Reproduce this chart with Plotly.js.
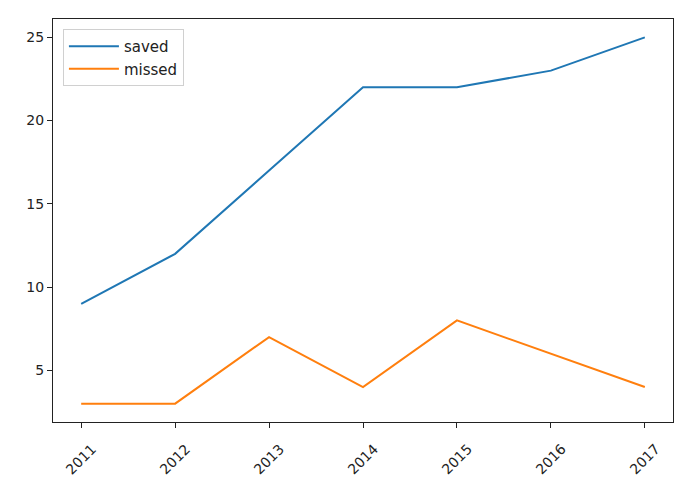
<!DOCTYPE html>
<html>
<head>
<meta charset="utf-8">
<script src="https://cdn.plot.ly/plotly-3.0.1.min.js"></script>
<style>html,body{margin:0;padding:0;background:#fff;}</style>
</head>
<body>
<div id="chart" style="width:695px;height:494px;"></div>
<script>
const years = [2011, 2012, 2013, 2014, 2015, 2016, 2017];
const saved = [9, 12, 17, 22, 22, 23, 25];
const missed = [3, 3, 7, 4, 8, 6, 4];
const yTicks = [5, 10, 15, 20, 25];

const traces = [
  {x: years, y: saved, name: 'saved', type: 'scatter', mode: 'lines',
   line: {color: '#1f77b4', width: 2}},
  {x: years, y: missed, name: 'missed', type: 'scatter', mode: 'lines',
   line: {color: '#ff7f0e', width: 2}}
];

const tickFont = {family: 'DejaVu Sans', size: 14, color: '#222'};

const annotations = years.map(yr => ({
  x: yr, y: -0.092, xref: 'x', yref: 'paper', text: String(yr),
  showarrow: false, textangle: -45, xanchor: 'center', yanchor: 'middle',
  font: tickFont
}));

const layout = {
  width: 695, height: 494,
  margin: {l: 53, r: 22, t: 19, b: 72},
  paper_bgcolor: '#fff', plot_bgcolor: '#fff',
  font: {family: 'DejaVu Sans', size: 14, color: '#222'},
  showlegend: true,
  legend: {x: 0.016, y: 0.975, xanchor: 'left', yanchor: 'top',
    bgcolor: 'rgba(255,255,255,0.8)', bordercolor: '#d0d0d0', borderwidth: 1,
    itemwidth: 50,
    font: {family: 'DejaVu Sans', size: 15, color: '#222'}},
  annotations: annotations,
  xaxis: {range: [2010.7, 2017.3], tickvals: years, showticklabels: false,
    showgrid: false, zeroline: false, showline: true, mirror: true,
    linecolor: '#222', linewidth: 1, ticks: 'outside', ticklen: 5, tickcolor: '#222'},
  yaxis: {range: [1.9, 26.1], tickvals: yTicks, showgrid: false, zeroline: false,
    showline: true, mirror: true, linecolor: '#222', linewidth: 1,
    ticks: 'outside', ticklen: 5, tickcolor: '#222', tickfont: tickFont}
};

Plotly.newPlot('chart', traces, layout, {displayModeBar: false, staticPlot: true});
</script>
</body>
</html>
